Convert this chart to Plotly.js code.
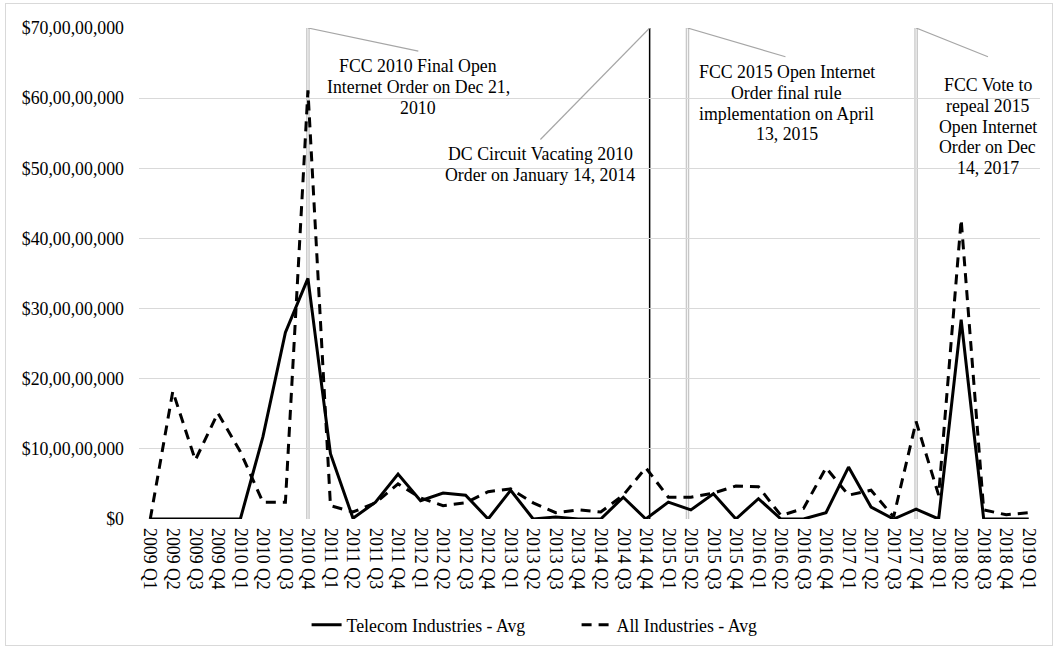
<!DOCTYPE html>
<html>
<head>
<meta charset="utf-8">
<script src="https://cdn.plot.ly/plotly-3.0.1.min.js"></script>
<style>
  html, body { margin: 0; padding: 0; background: #fff; }
  #wrap { position: relative; width: 1058px; height: 655px; }
  #chart { position: absolute; left: 0; top: 0; width: 1058px; height: 655px; }
  #frame { position: absolute; left: 5px; top: 3px; width: 1046px; height: 641px; border: 1px solid #d9d9d9; pointer-events: none; }
</style>
</head>
<body>
<div id="wrap">
  <div id="chart"></div>
  <div id="frame"></div>
</div>
<script>
// ---- Data ----
const quarters = [
  "2009 Q1","2009 Q2","2009 Q3","2009 Q4",
  "2010 Q1","2010 Q2","2010 Q3","2010 Q4",
  "2011 Q1","2011 Q2","2011 Q3","2011 Q4",
  "2012 Q1","2012 Q2","2012 Q3","2012 Q4",
  "2013 Q1","2013 Q2","2013 Q3","2013 Q4",
  "2014 Q2","2014 Q3","2014 Q4",
  "2015 Q1","2015 Q2","2015 Q3","2015 Q4",
  "2016 Q1","2016 Q2","2016 Q3","2016 Q4",
  "2017 Q1","2017 Q2","2017 Q3","2017 Q4",
  "2018 Q1","2018 Q2","2018 Q3","2018 Q4",
  "2019 Q1"
];

const telecomAvg = [
  0, 0, 0, 0,
  0, 117000000, 266000000, 343000000,
  93000000, 1000000, 24000000, 64000000,
  26000000, 37000000, 34000000, 0,
  41000000, 0, 3000000, 0,
  0, 31000000, 0,
  24000000, 13000000, 36000000, 0,
  29000000, 0, 0, 9000000,
  74000000, 17000000, 0, 14000000,
  0, 284000000, 0, 0,
  0
];

const allAvg = [
  0, 182000000, 84000000, 151000000,
  96000000, 24000000, 24000000, 611000000,
  19000000, 10000000, 23000000, 50000000,
  30000000, 19000000, 23000000, 39000000,
  43000000, 23000000, 9000000, 13000000,
  10000000, 34000000, 73000000,
  31000000, 31000000, 37000000, 47000000,
  46000000, 5000000, 15000000, 73000000,
  34000000, 41000000, 3000000, 139000000,
  34000000, 427000000, 13000000, 6000000,
  9000000
];

const seriesNames = ["Telecom Industries - Avg", "All Industries - Avg"];

const yTickVals = [0, 100000000, 200000000, 300000000, 400000000, 500000000, 600000000, 700000000];
const yTickText = ["$0", "$10,00,00,000", "$20,00,00,000", "$30,00,00,000", "$40,00,00,000", "$50,00,00,000", "$60,00,00,000", "$70,00,00,000"];

// Event markers (category index position) and their notes
const eventX = [7, 22.17, 23.85, 34];
const eventDouble = [true, false, true, true];
const eventLines = [
  ["FCC 2010 Final Open", "Internet Order on Dec 21,", "2010"],
  ["DC Circuit Vacating 2010", "Order on January 14, 2014"],
  ["FCC 2015 Open Internet", "Order final rule", "implementation on April", "13, 2015"],
  ["FCC Vote to", "repeal 2015", "Open Internet", "Order on Dec", "14, 2017"]
];
const noteX = [11.9, 17.32, 28.26, 37.19];
const noteFirstY = [645700000, 520000000, 637100000, 618600000];
const noteLineStep = 29600000;
const leaderEndX = [11.9, 17.32, 28.2, 37.19];
const leaderEndY = [667000000, 541000000, 659000000, 659000000];

const FONT = "Liberation Serif";
const FS = 17.8;
const idx = quarters.map((_, i) => i);

const traces = [
  {
    x: idx, y: telecomAvg, type: "scatter", mode: "lines", name: seriesNames[0],
    line: { color: "#000000", width: 3, dash: "solid" }, hoverinfo: "skip"
  },
  {
    x: idx, y: allAvg, type: "scatter", mode: "lines", name: seriesNames[1],
    line: { color: "#000000", width: 3, dash: "10px,7px" }, hoverinfo: "skip"
  }
];

const shapes = [];
const annotations = [];
const yTop = yTickVals[yTickVals.length - 1];
eventX.forEach((ex, i) => {
  if (eventDouble[i]) {
    shapes.push({
      type: "line", xref: "x", yref: "y", x0: ex, x1: ex, y0: 0, y1: yTop,
      line: { color: "#c3c3c3", width: 3.5 }, layer: "below"
    });
    shapes.push({
      type: "line", xref: "x", yref: "y", x0: ex, x1: ex, y0: 0, y1: yTop,
      line: { color: "#f4f4f4", width: 1.2 }, layer: "below"
    });
  } else {
    shapes.push({
      type: "line", xref: "x", yref: "y", x0: ex, x1: ex, y0: 0, y1: yTop,
      line: { color: "#000000", width: 1.5 }, layer: "below"
    });
  }
  shapes.push({
    type: "line", xref: "x", yref: "y", x0: ex, x1: leaderEndX[i], y0: yTop, y1: leaderEndY[i],
    line: { color: "#a6a6a6", width: 1.2 }, layer: "above"
  });
  eventLines[i].forEach((txt, j) => {
    annotations.push({
      xref: "x", yref: "y", x: noteX[i], y: noteFirstY[i] - j * noteLineStep, text: txt,
      showarrow: false, xanchor: "center", yanchor: "middle", align: "center",
      font: { family: FONT, size: FS, color: "#000" }
    });
  });
});

const layout = {
  width: 1058, height: 655,
  margin: { l: 139, r: 18, t: 28, b: 136 },
  paper_bgcolor: "rgba(0,0,0,0)",
  plot_bgcolor: "#ffffff",
  font: { family: FONT, size: FS, color: "#000" },
  showlegend: true,
  legend: {
    orientation: "h", x: 0.186, xanchor: "left", y: -0.216, yanchor: "middle",
    font: { family: FONT, size: FS, color: "#000" },
    entrywidth: 225, entrywidthmode: "pixels", tracegroupgap: 0
  },
  xaxis: {
    range: [-0.5, quarters.length - 0.5],
    tickmode: "array", tickvals: idx, ticktext: quarters,
    tickangle: 90, ticks: "", showgrid: false, zeroline: false,
    showline: false, ticklabelstandoff: 8,
    tickfont: { family: FONT, size: FS, color: "#000" }
  },
  yaxis: {
    range: [0, yTop],
    tickmode: "array", tickvals: yTickVals, ticktext: yTickText,
    showgrid: true, gridcolor: "#d9d9d9", gridwidth: 1,
    zeroline: false, showline: false, ticks: "",
    ticklabelstandoff: 14,
    tickfont: { family: FONT, size: FS, color: "#000" }
  },
  shapes: shapes,
  annotations: annotations
};

Plotly.newPlot("chart", traces, layout, { displayModeBar: false, staticPlot: true });
</script>
</body>
</html>
